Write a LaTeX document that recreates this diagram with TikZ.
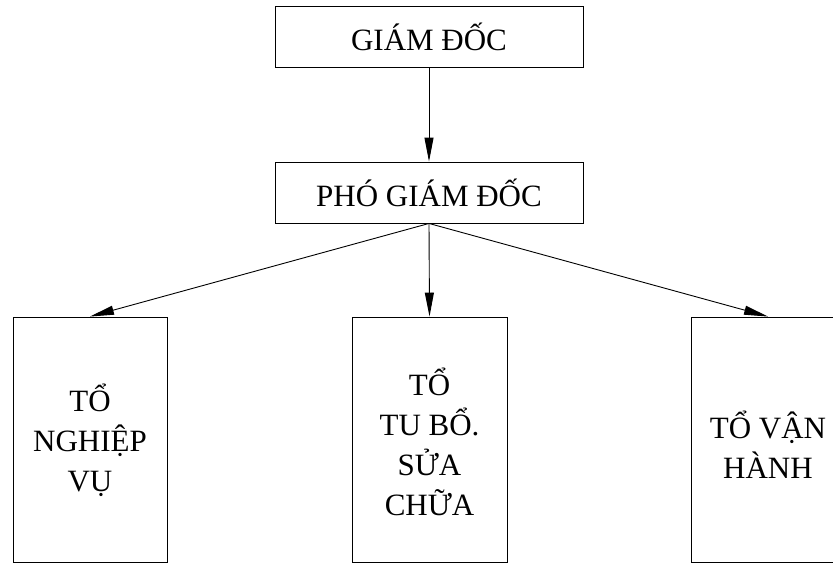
\documentclass[tikz,border=0pt]{standalone}
\usepackage{fontspec}
\setmainfont{Liberation Serif}
\usetikzlibrary{arrows.meta}
\begin{document}
\begin{tikzpicture}[x=1pt,y=-1pt,
  box/.style={draw, line width=0.9pt, inner sep=0pt},
  lbl/.style={align=center, font=\fontsize{31}{40}\selectfont, inner sep=0pt},
  conn/.style={line width=0.9pt, -{Triangle[length=24pt,width=9pt]}}]
\useasboundingbox (0,0) rectangle (833,563);
\clip (0,0) rectangle (833,563);
\node[box, minimum width=308pt, minimum height=61pt, font=\fontsize{31}{36}\selectfont] (gd) at (429,37) {GIÁM ĐỐC};
\node[box, minimum width=308pt, minimum height=61pt, font=\fontsize{31}{36}\selectfont] (pgd) at (429,192.5) {PHÓ GIÁM ĐỐC};
\node[box, minimum width=154pt, minimum height=245pt] (nv) at (90,439.5) {};
\node[box, minimum width=155pt, minimum height=245pt] (ts) at (429.5,439.5) {};
\node[box, minimum width=154pt, minimum height=245pt] (vh) at (768,439.5) {};
\node[lbl] (nvt) at (90,440) {TỔ\\NGHIỆP\\VỤ};
\node[lbl] (tst) at (429.5,442) {TỔ\\TU BỔ.\\SỬA\\CHỮA};
\node[lbl] (vht) at (768,445) {TỔ VẬN\\HÀNH};
\draw[conn] (gd.south) -- (pgd.north);
\draw[conn] (pgd.south) -- (nv.north);
\draw[conn] (pgd.south) -- (ts.north);
\draw[conn] (pgd.south) -- (vh.north);
\end{tikzpicture}
\end{document}
